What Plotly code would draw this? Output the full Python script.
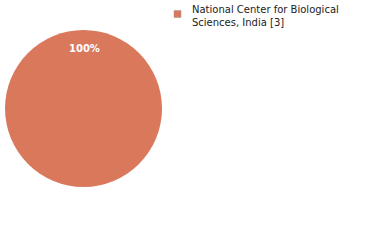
import plotly.graph_objects as go

labels = ["National Center for Biological<br>Sciences, India [3]"]
values = [3]
colors = ["#DA785C"]

W, H = 380, 240
fig = go.Figure()
fig.add_trace(go.Pie(
    labels=labels, values=values, sort=False, direction="clockwise",
    marker=dict(colors=colors, line=dict(width=0)),
    textinfo="none", hoverinfo="label+percent", showlegend=False,
    domain=dict(x=[5/W, 162/W], y=[1-187/H, 1-30/H]),
))
total = sum(values)
fig.add_annotation(x=84/W, y=1-49/H, xref="paper", yref="paper",
                   xanchor="center", yanchor="middle",
                   text=f"<b>{round(100*values[0]/total)}%</b>", showarrow=False,
                   font=dict(family="DejaVu Sans", size=10, color="white"))
# legend
for i, (lab, c) in enumerate(zip(labels, colors)):
    fig.add_shape(type="rect", xref="paper", yref="paper",
                  x0=174/W, x1=181/W, y0=1-17.5/H, y1=1-10.5/H,
                  fillcolor=c, line=dict(color="#999999", width=0.5))
    fig.add_annotation(x=190/W, y=1-2/H, xref="paper", yref="paper",
                       xanchor="left", yanchor="top", align="left",
                       text=lab, showarrow=False,
                       font=dict(family="DejaVu Sans", size=10, color="#222222"))
fig.update_layout(width=W, height=H, margin=dict(l=0, r=0, t=0, b=0),
                  paper_bgcolor="white", plot_bgcolor="white")
fig.write_html("out.html")
